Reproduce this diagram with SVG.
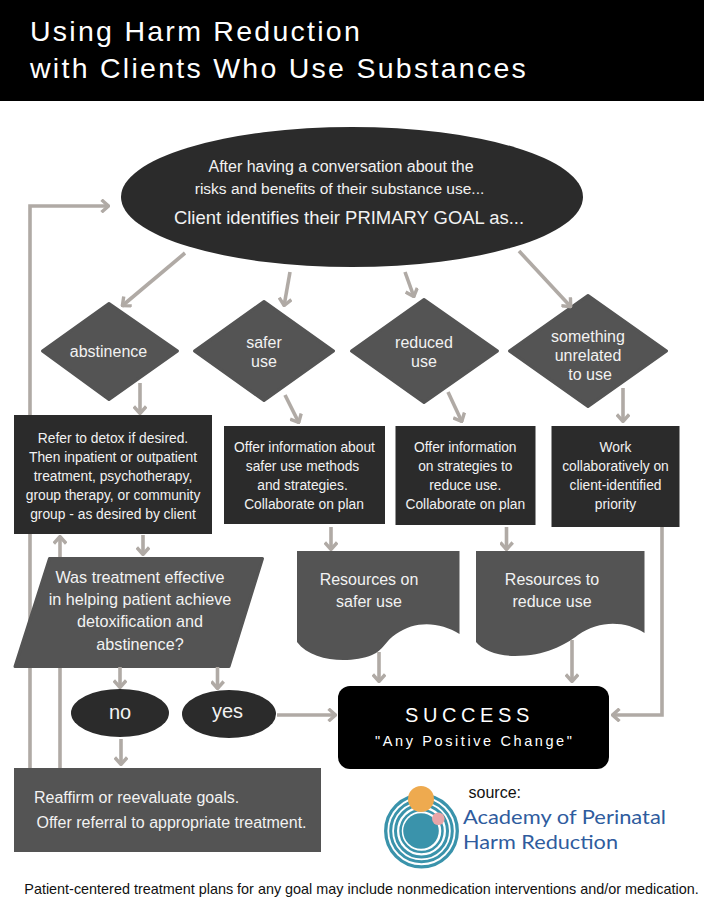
<svg xmlns="http://www.w3.org/2000/svg" width="704" height="911" viewBox="0 0 704 911">
<style>
text{font-family:"Liberation Sans",Arial,sans-serif;text-anchor:middle;fill:#f2f2f2}
.s{font-size:13.8px}.m{font-size:16px}.d{fill:#545454;stroke:#545454;stroke-width:3;stroke-linejoin:round}.k{fill:#2b2b2b}
.c{fill:none;stroke:#b0aaa5;stroke-width:3.6;stroke-linejoin:miter}
.b{font-family:Lato,sans-serif;font-size:19px;fill:#2f5c9e;text-anchor:start}
</style>
<defs><marker id="a" viewBox="0 0 10 14" refX="9" refY="7" markerWidth="10" markerHeight="14" markerUnits="userSpaceOnUse" orient="auto"><path d="M1.500 0.800L8.500 7L1.500 13.200" fill="none" stroke="#b0aaa5" stroke-width="3.4"/></marker></defs>
<rect width="704" height="911" fill="#fff"/>
<g id="title"><rect width="704" height="101" fill="#000"/>
<text x="30" y="41" style="font-size:28.5px;letter-spacing:2.27px;text-anchor:start;fill:#fff">Using Harm Reduction</text>
<text x="30" y="78" style="font-size:28.5px;letter-spacing:2.27px;text-anchor:start;fill:#fff">with Clients Who Use Substances</text></g>
<g id="connectors-back"><path class="c" d="M30 768V206H109" marker-end="url(#a)"/><path class="c" d="M60 768V536" marker-end="url(#a)"/></g>
<g id="goal"><ellipse class="k" cx="352" cy="197" rx="231" ry="70"/>
<text class="m" x="341" y="172">After having a conversation about the</text><text x="339.500" y="193.500" style="font-size:15.500px">risks and benefits of their substance use...</text><text x="349" y="224" style="font-size:18.450px">Client identifies their PRIMARY GOAL as...</text></g>
<g id="abstinence"><path class="d" d="M42.500 351L109 303.500L177.500 351L109 399.500Z"/><text class="m" x="108.500" y="356.700">abstinence</text></g>
<g id="safer"><path class="d" d="M194.500 351L264 301.500L333.500 351L264 400.500Z"/><text class="m" x="264" y="347.500">safer</text><text class="m" x="264" y="366.500">use</text></g>
<g id="reduced"><path class="d" d="M351.500 351L424 299.500L497.500 351L424 402.500Z"/><text class="m" x="424" y="347.500">reduced</text><text class="m" x="424" y="366.500">use</text></g>
<g id="unrelated"><path class="d" d="M509.500 351L588 295.500L666.500 351L588 406.500Z"/><text class="m" x="588" y="342">something</text><text class="m" x="588" y="361">unrelated</text><text class="m" x="590" y="380">to use</text></g>
<g id="detox"><rect class="k" x="14" y="415" width="198" height="119"/>
<text class="s" x="113" y="443">Refer to detox if desired.</text><text class="s" x="113" y="462">Then inpatient or outpatient</text><text class="s" x="113" y="481">treatment, psychotherapy,</text><text class="s" x="113" y="500">group therapy, or community</text><text class="s" x="113" y="519">group - as desired by client</text></g>
<g id="saferinfo"><rect class="k" x="224" y="426" width="161" height="98"/>
<text class="s" x="304.500" y="452">Offer information about</text><text class="s" x="302.500" y="471">safer use methods</text><text class="s" x="302.500" y="490">and strategies.</text><text class="s" x="304" y="509">Collaborate on plan</text></g>
<g id="reduceinfo"><rect class="k" x="395.500" y="426" width="140" height="99"/>
<text class="s" x="465.300" y="452">Offer information</text><text class="s" x="465.300" y="471">on strategies to</text><text class="s" x="465.300" y="490">reduce use.</text><text class="s" x="465.300" y="509">Collaborate on plan</text></g>
<g id="priority"><rect class="k" x="551.500" y="426" width="128" height="101"/>
<text class="s" x="615.500" y="452">Work</text><text class="s" x="615.500" y="471">collaboratively on</text><text class="s" x="615.500" y="490">client-identified</text><text class="s" x="615.500" y="509">priority</text></g>
<g id="question"><path class="d" d="M49.500 558.500H262.500L229 666.500H15Z"/>
<text x="140" y="583" style="font-size:16.200px">Was treatment effective</text><text x="140" y="605" style="font-size:16.200px">in helping patient achieve</text><text x="140" y="627" style="font-size:16.200px">detoxification and</text><text x="140" y="650" style="font-size:16.200px">abstinence?</text></g>
<g id="no"><ellipse class="k" cx="120" cy="713" rx="49" ry="24"/><text x="120" y="719" style="font-size:20px">no</text></g>
<g id="yes"><ellipse class="k" cx="229" cy="714" rx="47" ry="24"/><text x="227.500" y="718" style="font-size:20px">yes</text></g>
<g id="reaffirm"><rect x="14" y="768" width="307" height="84" fill="#545454"/>
<text x="34" y="803" style="font-size:16px;text-anchor:start">Reaffirm or reevaluate goals.</text><text x="36.500" y="828" style="font-size:16px;text-anchor:start">Offer referral to appropriate treatment.</text></g>
<g id="res-safer"><path fill="#545454" d="M297 551H459.500V634C440 622 416 620 396 634C385 641 384 650 372 655C350 664 312 662 297 642Z"/><text x="369" y="585" style="font-size:16px">Resources on</text><text x="369" y="607" style="font-size:16px">safer use</text></g>
<g id="res-reduce"><path fill="#545454" d="M476 551H644.500V633C625 621 600 620 578 635C565 645 545 656 515 656C498 656 482 650 476 642Z"/><text x="552" y="585" style="font-size:16px">Resources to</text><text x="552" y="607" style="font-size:16px">reduce use</text></g>
<g id="success"><rect x="338" y="686" width="271" height="83" rx="12" fill="#000"/>
<text x="469.500" y="721.500" style="font-size:20px;letter-spacing:4.600px;fill:#fff">SUCCESS</text><text x="474.800" y="746" style="font-size:14.500px;letter-spacing:2.600px;fill:#fff">"Any Positive Change"</text></g>
<g id="connectors">
<path class="c" d="M185 253L122 306" marker-end="url(#a)"/><path class="c" d="M290 272L284 306" marker-end="url(#a)"/><path class="c" d="M405 272L414 297" marker-end="url(#a)"/><path class="c" d="M519 251L571 307" marker-end="url(#a)"/>
<path class="c" d="M140 383V414" marker-end="url(#a)"/><path class="c" d="M285 395L299 423" marker-end="url(#a)"/><path class="c" d="M448 392L462 422" marker-end="url(#a)"/><path class="c" d="M623 388V422" marker-end="url(#a)"/>
<path class="c" d="M143 535V555" marker-end="url(#a)"/><path class="c" d="M120 667V688" marker-end="url(#a)"/><path class="c" d="M217.500 667V689" marker-end="url(#a)"/><path class="c" d="M121 739V765" marker-end="url(#a)"/><path class="c" d="M277 715H336" marker-end="url(#a)"/>
<path class="c" d="M331 527V550" marker-end="url(#a)"/><path class="c" d="M506.500 527V550" marker-end="url(#a)"/><path class="c" d="M379 652V682" marker-end="url(#a)"/><path class="c" d="M572 640V682" marker-end="url(#a)"/><path class="c" d="M662 527V715H612" marker-end="url(#a)"/>
</g>
<g id="logo"><g fill="none" stroke="#3a93ab"><circle cx="421.500" cy="831" r="35.800" stroke-width="3.300"/><circle cx="421.500" cy="831" r="30.800" stroke-width="3"/><circle cx="421.500" cy="831" r="26" stroke-width="3"/><circle cx="421.500" cy="831" r="21" stroke-width="2.500"/></g><circle cx="421" cy="831" r="17.800" fill="#3a93ab"/><circle cx="421" cy="799" r="13" fill="#eeaa4f"/><circle cx="438.300" cy="818.700" r="6.300" fill="#e8a5a8"/>
<text x="468.500" y="798" style="font-size:16px;fill:#111;text-anchor:start">source:</text>
<text class="b" x="463" y="824" textLength="203" lengthAdjust="spacingAndGlyphs">Academy of Perinatal</text><text class="b" x="463" y="849" textLength="155" lengthAdjust="spacingAndGlyphs">Harm Reduction</text></g>
<text x="361.500" y="894" style="font-size:14.400px;fill:#111">Patient-centered treatment plans for any goal may include nonmedication interventions and/or medication.</text>
</svg>
